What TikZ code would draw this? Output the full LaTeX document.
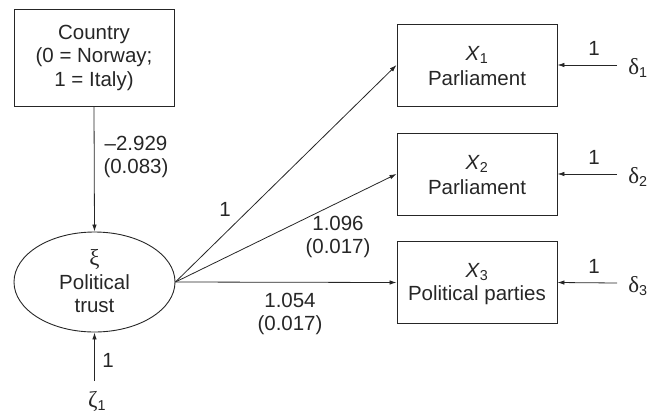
\documentclass[tikz,border=0pt]{standalone}
\usepackage{fontspec}
\setmainfont{Liberation Sans}
\newfontfamily\grk[Scale=1.12]{Liberation Serif}
\usetikzlibrary{arrows.meta,shapes.geometric}
\begin{document}
\begin{tikzpicture}[x=1pt,y=-1pt,
  every node/.style={font=\fontsize{20.5}{23.5}\selectfont, text=black!85},
  box/.style={draw=black!85, line width=0.9pt, minimum width=160pt, align=center, inner sep=0pt},
  lat/.style={draw=black!85, line width=0.9pt, ellipse, minimum width=161pt, minimum height=100pt, inner sep=0pt, align=center},
  path/.style={draw=black!85, line width=0.8pt, -{Latex[length=7pt,width=4.5pt]}},
  lbl/.style={align=center, inner sep=0pt}]
\useasboundingbox (0,0) rectangle (650,415);
\node[box, minimum height=97pt] (country) at (94,57.5) {Country\\(0 = Norway;\\1 = Italy)};
\node[lat] (xi) at (94.5,282) {};
\node at (94.5,260) {\grk ξ};
\node at (94.5,282) {Political};
\node at (94.5,306) {trust};
\node[box, minimum height=82pt] (x1) at (477,65) {};
\node[box, minimum height=82pt] (x2) at (477,174) {};
\node[box, minimum height=82pt] (x3) at (477,282.5) {};
\node at (477,55) {\textit{X}\textsubscript{1}};
\node at (477,78) {Parliament};
\node at (477,164) {\textit{X}\textsubscript{2}};
\node at (477,187) {Parliament};
\node at (477,272) {\textit{X}\textsubscript{3}};
\node at (477,295) {Political parties};
\node (d1) at (638,68) {{\grk δ}\textsubscript{1}};
\node (d2) at (638,177) {{\grk δ}\textsubscript{2}};
\node (d3) at (638,286) {{\grk δ}\textsubscript{3}};
\node (z1) at (97,401) {{\grk ζ}\textsubscript{1}};
\coordinate (d1e) at (617,65);
\coordinate (d2e) at (617,174);
\coordinate (d3e) at (617,283);
\coordinate (z1e) at (94.5,381);
\draw[path] (country.south) -- (xi.north);
\draw[path] (z1e) -- (xi.south);
\draw[path] (d1e) -- (x1.east);
\draw[path] (d2e) -- (x2.east);
\draw[path] (d3e) -- (x3.east);
\draw[path] (xi.east) -- (x1.west);
\draw[path] (xi.east) -- (x2.west);
\draw[path] (xi.east) -- (x3.west);
\node[lbl] at (136,157) {\textendash2.929\\(0.083)};
\node[lbl] at (108,360) {1};
\node[lbl] at (594,48) {1};
\node[lbl] at (594,157) {1};
\node[lbl] at (594,266) {1};
\node[lbl] at (225,209) {1};
\node[lbl] at (338,237) {1.096\\(0.017)};
\node[lbl] at (290,314) {1.054\\(0.017)};
\end{tikzpicture}
\end{document}
